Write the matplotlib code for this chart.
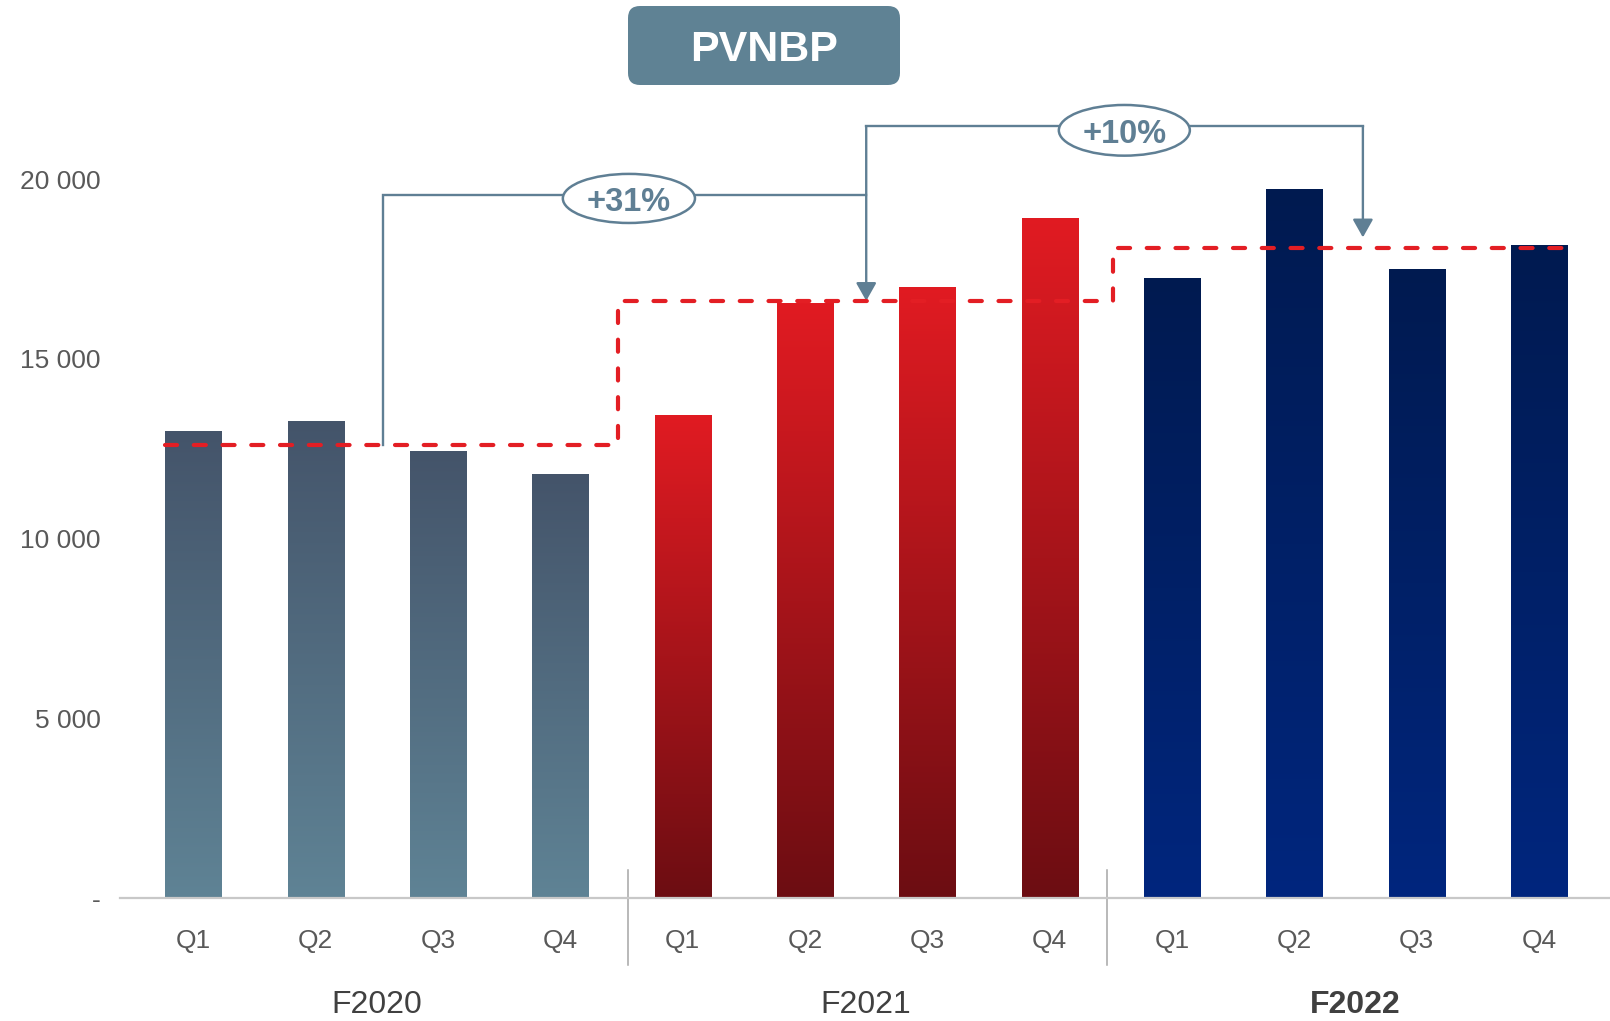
import numpy as np
import matplotlib
matplotlib.use("Agg")
import matplotlib.pyplot as plt
from matplotlib.patches import Ellipse, FancyBboxPatch
from matplotlib.colors import LinearSegmentedColormap
from matplotlib.transforms import IdentityTransform

plt.rcParams['font.family'] = ['Liberation Sans', 'DejaVu Sans']

# ---- data -------------------------------------------------------------
years = ["F2020", "F2021", "F2022"]
quarters = ["Q1", "Q2", "Q3", "Q4"]
pvnbp_2020 = [12990, 13270, 12430, 11790]
pvnbp_2021 = [13440, 16550, 17000, 18920]
pvnbp_2022 = [17250, 19720, 17500, 18160]
year_avg = [12600, 16610, 18080]
growth_labels = ["+31%", "+10%"]
y_ticks = [0, 5000, 10000, 15000, 20000]
y_tick_labels = ["-", "5 000", "10 000", "15 000", "20 000"]
title = "PVNBP"

# ---- styling ----------------------------------------------------------
W, H, DPI = 1610, 1021, 100
grad_colors = [("#44546a", "#5f8395"),   # (top, bottom)
               ("#e11b22", "#6c0d12"),
               ("#001a50", "#00267e")]
bracket_col = "#5f7f94"
red_dash = "#e31e24"
tick_col = "#595959"

fig = plt.figure(figsize=(W / DPI, H / DPI), dpi=DPI)
ax = fig.add_axes([120 / W, 1 - 898 / H, 1 - 120 / W, 898 / H])

series = [pvnbp_2020, pvnbp_2021, pvnbp_2022]
bar_w = 0.46
x_all = np.arange(12)

for g, vals in enumerate(series):
    xs = x_all[g * 4:(g + 1) * 4]
    bars = ax.bar(xs, vals, width=bar_w, color="none", edgecolor="none", zorder=2)
    top, bot = grad_colors[g]
    cmap = LinearSegmentedColormap.from_list(f"g{g}", [bot, top])
    for b in bars:
        x0, w, h = b.get_x(), b.get_width(), b.get_height()
        grad = np.linspace(0, 1, 256).reshape(-1, 1)
        im = ax.imshow(grad, cmap=cmap, origin="lower", aspect="auto",
                       extent=(x0, x0 + w, 0, h), zorder=2)
        im.set_clip_path(b)

# yearly average step line (dashed red)
step_x = [-0.23, 3.47, 3.47, 7.52, 7.52, 11.3]
step_y = [year_avg[0], year_avg[0], year_avg[1], year_avg[1], year_avg[2], year_avg[2]]
ax.plot(step_x, step_y, color=red_dash, lw=3.0, dashes=(2.9, 4.0),
        dash_capstyle="round", solid_joinstyle="miter", zorder=4)

# growth brackets
lw_b = 1.7
ax.plot([1.546, 1.546, 5.5], [year_avg[0], 19554, 19554], color=bracket_col,
        lw=lw_b, zorder=3, solid_joinstyle="miter")
ax.plot([5.5, 9.56], [21466, 21466], color=bracket_col, lw=lw_b, zorder=3)
arrow_kw = dict(arrowstyle="-|>,head_length=0.55,head_width=0.31", color=bracket_col,
                lw=lw_b, shrinkA=0, shrinkB=0, mutation_scale=20)
ax.annotate("", xy=(5.5, year_avg[1]), xytext=(5.5, 21466),
            arrowprops=arrow_kw, zorder=3)
ax.annotate("", xy=(9.56, 18376), xytext=(9.56, 21466),
            arrowprops=arrow_kw, zorder=3)

for (cx, cy, ew, eh), lab in zip([(3.56, 19460, 1.08, 1365), (7.61, 21355, 1.071, 1410)],
                                 growth_labels):
    ax.add_patch(Ellipse((cx, cy), ew, eh, facecolor="white", edgecolor=bracket_col,
                         lw=1.8, zorder=5))
    ax.text(cx, cy - 110, lab, ha="center", va="center", fontsize=23.5, fontweight="bold",
            color=bracket_col, zorder=6)

# axes
ax.set_xlim(-0.6, 11.58)
ax.set_ylim(0, 24980)
for s in ["top", "right", "left"]:
    ax.spines[s].set_visible(False)
ax.spines["bottom"].set_color("#c8c8c8")
ax.spines["bottom"].set_linewidth(1.6)
ax.set_yticks(y_ticks, y_tick_labels)
ax.tick_params(axis="y", length=0, pad=14, labelsize=19, labelcolor=tick_col)
ax.set_xticks(x_all, quarters * 3)
ax.tick_params(axis="x", length=0, pad=22, labelsize=19, labelcolor=tick_col)
for lbl in ax.get_yticklabels():
    lbl.set_y(lbl.get_position()[1])

xt = ax.get_xaxis_transform()
for sx in [3.55, 7.47]:
    ax.plot([sx, sx], [(898 - 870) / 898, (898 - 965) / 898], transform=xt,
            color="#a6a6a6", lw=1.1, clip_on=False, zorder=1)

for i, yr in enumerate(years):
    ax.text(1.5 + 4 * i, (898 - 1005) / 898, yr, transform=xt, ha="center",
            va="center", fontsize=23, color="#404040",
            fontweight="bold" if i == 2 else "normal")

# title badge
badge = FancyBboxPatch((628, H - 85), 272, 79, boxstyle="round,pad=0,rounding_size=12",
                       transform=IdentityTransform(), facecolor="#5f8294",
                       edgecolor="none")
fig.add_artist(badge)
fig.text(764 / W, 1 - 50 / H, title, ha="center", va="center", fontsize=31,
         fontweight="bold", color="white")

fig.savefig("out.png", dpi=DPI)
